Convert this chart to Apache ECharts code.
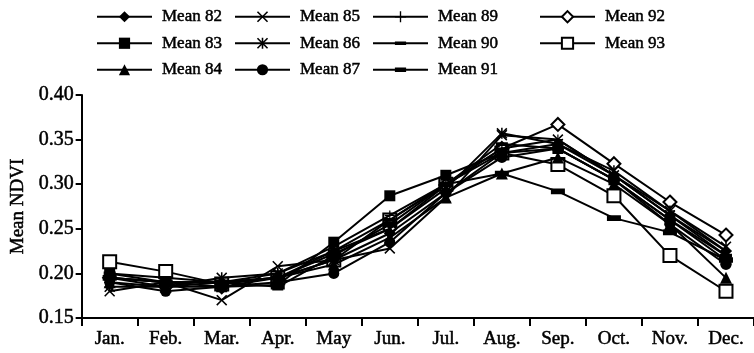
<!DOCTYPE html>
<html>
<head>
<meta charset="utf-8">
<script src="https://cdn.jsdelivr.net/npm/echarts@6/dist/echarts.min.js"></script>
<style>html,body{margin:0;padding:0;background:#fff;}#c{width:754px;height:353px;}</style>
</head>
<body>
<div id="c"></div>
<script>
const months = ['Jan.','Feb.','Mar.','Apr.','May','Jun.','Jul.','Aug.','Sep.','Oct.','Nov.','Dec.'];
const mean82 = [0.195,0.190,0.190,0.195,0.215,0.245,0.290,0.335,0.345,0.310,0.265,0.225];
const mean83 = [0.200,0.190,0.185,0.187,0.235,0.287,0.310,0.335,0.340,0.305,0.260,0.215];
const mean84 = [0.190,0.185,0.190,0.195,0.210,0.240,0.285,0.312,0.330,0.300,0.255,0.195];
const mean85 = [0.180,0.190,0.170,0.208,0.215,0.228,0.285,0.355,0.350,0.310,0.265,0.220];
const mean86 = [0.185,0.185,0.195,0.200,0.225,0.250,0.295,0.357,0.345,0.315,0.270,0.230];
const mean87 = [0.190,0.180,0.185,0.190,0.200,0.235,0.290,0.330,0.340,0.305,0.255,0.210];
const mean89 = [0.195,0.190,0.190,0.200,0.230,0.265,0.300,0.340,0.350,0.310,0.270,0.225];
const mean90 = [0.200,0.195,0.190,0.195,0.225,0.260,0.300,0.345,0.340,0.305,0.260,0.220];
const mean91 = [0.195,0.190,0.190,0.185,0.220,0.255,0.300,0.312,0.292,0.262,0.246,0.215];
const mean92 = [0.195,0.185,0.185,0.195,0.222,0.250,0.299,0.340,0.367,0.323,0.280,0.243];
const mean93 = [0.213,0.202,0.188,0.195,0.215,0.260,0.300,0.335,0.322,0.287,0.220,0.180];
const yTicks = ['0.15','0.20','0.25','0.30','0.35','0.40'];

const FONT = '"Liberation Serif","Times New Roman",serif';
const X_PATH = 'path://M0,1 L1,0 L5,4 L9,0 L10,1 L6,5 L10,9 L9,10 L5,6 L1,10 L0,9 L4,5 Z';
const STAR_PATH = 'path://M0,1 L1,0 L5,4 L9,0 L10,1 L6,5 L10,9 L9,10 L5,6 L1,10 L0,9 L4,5 Z M4.3,0 L5.7,0 L5.7,10 L4.3,10 Z';
const PLUS_PATH = 'path://M4.4,0 L5.6,0 L5.6,4.4 L10,4.4 L10,5.6 L5.6,5.6 L5.6,10 L4.4,10 L4.4,5.6 L0,5.6 L0,4.4 L4.4,4.4 Z';
const DASH_PATH = 'path://M0,0 L0.01,0 L0,0.01 Z M0,3.4 L10,3.4 L10,6.6 L0,6.6 Z M10,10 L9.99,10 L10,9.99 Z';
const BAR_PATH = 'path://M0,0 L0.01,0 L0,0.01 Z M0,3 L10,3 L10,7 L0,7 Z M10,10 L9.99,10 L10,9.99 Z';

const defs = [
  {name:'Mean 82', data:mean82, symbol:'diamond', size:12, open:false},
  {name:'Mean 83', data:mean83, symbol:'rect', size:11, open:false},
  {name:'Mean 84', data:mean84, symbol:'triangle', size:12, open:false},
  {name:'Mean 85', data:mean85, symbol:X_PATH, size:11, open:false},
  {name:'Mean 86', data:mean86, symbol:STAR_PATH, size:11, open:false},
  {name:'Mean 87', data:mean87, symbol:'circle', size:11, open:false},
  {name:'Mean 89', data:mean89, symbol:PLUS_PATH, size:10, open:false},
  {name:'Mean 90', data:mean90, symbol:DASH_PATH, size:12, open:false},
  {name:'Mean 91', data:mean91, symbol:BAR_PATH, size:14, open:false},
  {name:'Mean 92', data:mean92, symbol:'diamond', size:13, open:true},
  {name:'Mean 93', data:mean93, symbol:'rect', size:13, open:true}
];

const n = defs.length;
const series = defs.map((d, i) => ({
  name: d.name,
  type: 'line',
  data: d.data,
  symbol: d.symbol,
  symbolSize: d.size,
  showAllSymbol: true,
  animation: false,
  z: 2 + (n - i),
  lineStyle: {color:'#000', width:2},
  itemStyle: d.open ? {color:'#fff', borderColor:'#000', borderWidth:2} : {color:'#000', borderColor:'#000', borderWidth:0}
}));

const TXT = {fontFamily:FONT, color:'#000', textBorderColor:'#000', textBorderWidth:0.5};

function legendCol(left, names) {
  return {
    orient:'vertical', left:left, top:3, itemWidth:55, itemHeight:14, itemGap:9,
    data: names,
    textStyle:Object.assign({fontSize:17, padding:[0,0,0,5]}, TXT),
    selectedMode:false
  };
}

const chart = echarts.init(document.getElementById('c'), null, {renderer:'canvas'});
chart.setOption({
  animation:false,
  backgroundColor:'#fff',
  legend:[
    legendCol(91, ['Mean 82','Mean 83','Mean 84']),
    legendCol(229, ['Mean 85','Mean 86','Mean 87']),
    legendCol(367, ['Mean 89','Mean 90','Mean 91']),
    legendCol(534, ['Mean 92','Mean 93'])
  ],
  grid:{left:79, top:95, width:682, height:223, containLabel:false},
  xAxis:{
    type:'category', data:months, boundaryGap:true,
    axisLine:{lineStyle:{color:'#000', width:2}},
    axisTick:{show:true, length:8, lineStyle:{color:'#000', width:2}, alignWithLabel:false},
    axisLabel:Object.assign({fontSize:19, margin:12, interval:0}, TXT)
  },
  yAxis:{
    type:'value', min:0.15, max:0.40, interval:0.05,
    name:'Mean NDVI', nameLocation:'middle', nameGap:48,
    nameTextStyle:Object.assign({fontSize:19}, TXT),
    axisLine:{show:true, lineStyle:{color:'#000', width:2}},
    axisTick:{show:true, length:6, lineStyle:{color:'#000', width:2}},
    splitLine:{show:false},
    axisLabel:Object.assign({fontSize:20, margin:8,
      formatter: v => { const s = v.toFixed(2); return yTicks.indexOf(s) >= 0 ? s : ''; }}, TXT)
  },
  series: series
});
</script>
</body>
</html>
